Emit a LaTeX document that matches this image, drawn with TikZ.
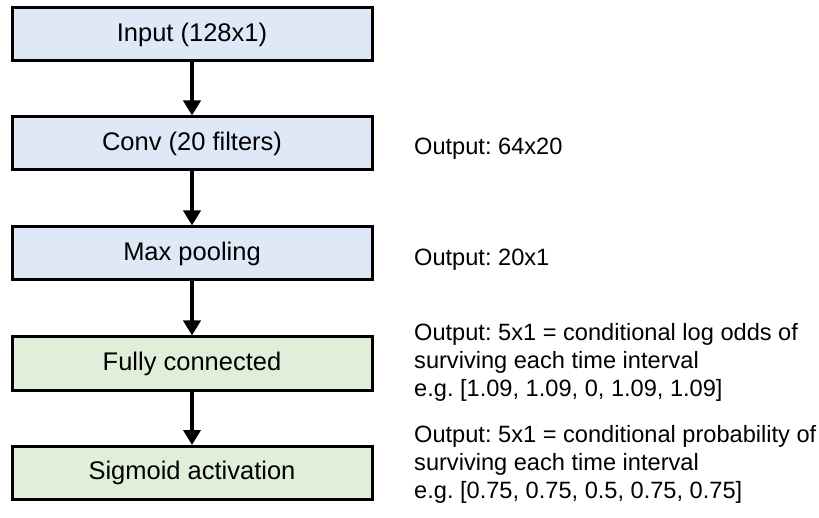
\documentclass[tikz,border=0pt]{standalone}
\usepackage{fontspec}
\setmainfont{Liberation Sans}
\usetikzlibrary{arrows.meta}
\definecolor{boxblue}{HTML}{DFE8F6}
\definecolor{boxgreen}{HTML}{E0EFD9}
\tikzset{
  layerbox/.style={draw=black, line width=3pt, minimum width=360pt, minimum height=53pt,
    inner sep=0pt, font=\fontsize{25.5}{30}\selectfont},
  flow/.style={line width=4.5pt, -{Triangle[width=17pt,length=15pt]}},
  note/.style={anchor=base west, inner sep=0pt, font=\fontsize{23.6}{28}\selectfont\frenchspacing, align=left}
}
\begin{document}
\frenchspacing
\begin{tikzpicture}[x=1pt,y=-1pt]
\useasboundingbox (0,0) rectangle (819,518);
\node[layerbox, fill=boxblue] (in) at (192,34.5) {Input (128x1)};
\node[layerbox, fill=boxblue] (conv) at (192,143.5) {Conv (20 filters)};
\node[layerbox, fill=boxblue] (pool) at (192,253.5) {Max pooling};
\node[layerbox, fill=boxgreen] (fc) at (192,363.5) {Fully connected};
\node[layerbox, fill=boxgreen] (sig) at (192,473) {Sigmoid activation};
\draw[flow] (in.south) -- (conv.north);
\draw[flow] (conv.south) -- (pool.north);
\draw[flow] (pool.south) -- (fc.north);
\draw[flow] (fc.south) -- (sig.north);
\node[note] (t1) at (414,155) {Output: 64x20};
\node[note] (t2) at (414,266) {Output: 20x1};
\node[note] (t3) at (414,396) {Output: 5x1 = conditional log odds of\\surviving each time interval\\e.g. [1.09, 1.09, 0, 1.09, 1.09]};
\node[note] (t4) at (414,498) {Output: 5x1 = conditional probability of\\surviving each time interval\\e.g. [0.75, 0.75, 0.5, 0.75, 0.75]};
\end{tikzpicture}
\end{document}
